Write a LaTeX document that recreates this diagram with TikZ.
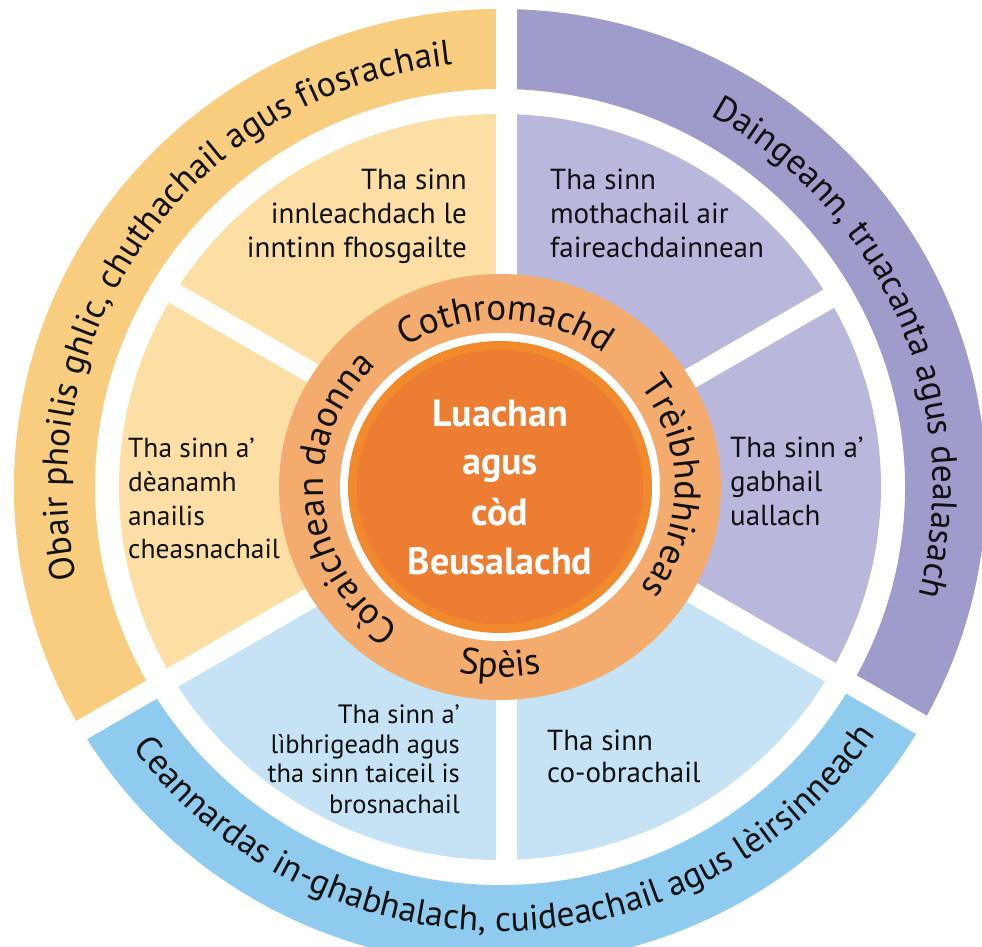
\documentclass[tikz,border=0pt]{standalone}
\usepackage{fontspec}
\setmainfont{PT Sans}
\usetikzlibrary{decorations.text}
\definecolor{oYel}{HTML}{F9CD7F}
\definecolor{mYel}{HTML}{FDDFA6}
\definecolor{oPur}{HTML}{9F9BCB}
\definecolor{mPur}{HTML}{B9B7DC}
\definecolor{oBlu}{HTML}{8FCBEE}
\definecolor{mBlu}{HTML}{C6E3F6}
\definecolor{rOra}{HTML}{F4AC6E}
\definecolor{dOra}{HTML}{EC7D32}
\definecolor{dRim}{HTML}{F08A2C}
\definecolor{ink}{HTML}{111111}
\def\ringsec#1#2#3#4#5#6#7{\fill[#1] (#2:#4 and #5) arc[start angle=#2,end angle=#3,x radius=#4,y radius=#5] -- (#3:#6 and #7) arc[start angle=#3,end angle=#2,x radius=#6,y radius=#7] -- cycle;}
\def\ofnt{\color{ink}\fontsize{35.5}{35.5}\selectfont}
\def\rfnt{\color{ink}\fontsize{37}{37}\selectfont}
\begin{document}
\begin{tikzpicture}[x=1pt,y=1pt,
  mtxt/.style={font=\fontsize{29}{34}\selectfont, inner sep=0pt, text=ink},
  ltxt/.style={font=\fontsize{27.5}{33}\selectfont, inner sep=0pt, text=ink},
  stxt/.style={font=\fontsize{26.5}{30}\selectfont, inner sep=0pt, text=ink},
  ctxt/.style={font=\bfseries\fontsize{38}{38}\selectfont, inner sep=0pt, text=white, anchor=base},
  gapline/.style={white, line width=21pt}]
\useasboundingbox[fill=white] (-500,-460) rectangle (482,487);
% outer ring
\ringsec{oYel}{90}{210}{405}{398}{486}{478}
\ringsec{oBlu}{210}{330}{405}{398}{486}{478}
\ringsec{oPur}{-30}{90}{405}{398}{486}{478}
% middle ring
\ringsec{mYel}{90}{150}{150}{145}{381}{373}
\ringsec{mYel}{150}{210}{150}{145}{381}{373}
\ringsec{mBlu}{210}{270}{150}{145}{381}{373}
\ringsec{mBlu}{270}{330}{150}{145}{381}{373}
\ringsec{mPur}{-30}{30}{150}{145}{381}{373}
\ringsec{mPur}{30}{90}{150}{145}{381}{373}
% gaps
\foreach \a in {30,90,...,330} \draw[gapline] (6,2) -- ++(\a:392);
\foreach \a in {90,210,330} \draw[gapline] (6,2) -- ++(\a:520);
% orange ring and core
\fill[rOra] (0,0) ellipse[x radius=221, y radius=213];
\fill[white] (0,0) ellipse[x radius=160, y radius=154];
\fill[dRim] (0,0) ellipse[x radius=152, y radius=146];
\fill[dOra] (0,0) ellipse[x radius=143, y radius=137];
% outer ring texts
\path[decorate, decoration={text along path, text align=center,
  text={|\ofnt|Obair phoilis ghlic, chuthachail agus fiosrachail}}]
  (220:433 and 425) arc[start angle=220, end angle=69, x radius=433, y radius=425];
\path[decorate, decoration={text along path, text align=center,
  text={|\ofnt|Daingeann, truacanta agus dealasach}}]
  (75:433 and 425) arc[start angle=75, end angle=-29, x radius=433, y radius=425];
\path[decorate, decoration={text along path, text align=center,
  text={|\ofnt|Ceannardas in-ghabhalach, cuideachail agus lèirsinneach}}]
  (205:453 and 444) arc[start angle=205, end angle=337, x radius=453, y radius=444];
% orange ring texts
\path[decorate, decoration={text along path, text align=center,
  text={|\rfnt|Cothromachd}}]
  (148:174 and 167) arc[start angle=148, end angle=28, x radius=174, y radius=167];
\path[decorate, decoration={text along path, text align=center,
  text={|\rfnt|Trèibhdhireas}}]
  (60:175 and 168) arc[start angle=60, end angle=-60, x radius=175, y radius=168];
\path[decorate, decoration={text along path, text align=center,
  text={|\rfnt|Còraichean daonna}}]
  (245:177 and 170) arc[start angle=245, end angle=125, x radius=177, y radius=170];
\path[decorate, decoration={text along path, text align=center,
  text={|\rfnt|Spèis}}]
  (220:197 and 190) arc[start angle=220, end angle=320, x radius=197, y radius=190];
% centre
\node[ctxt] (c1) at (0,60) {Luachan};
\node[ctxt] (c2) at (0,12) {agus};
\node[ctxt] (c3) at (0,-38) {còd};
\node[ctxt] (c4) at (0,-87) {Beusalachd};
% top-left sector
\node[mtxt, anchor=base east] (tl1) at (-33,297) {Tha sinn};
\node[mtxt, anchor=base east] (tl2) at (-33,263) {innleachdach le};
\node[mtxt, anchor=base east] (tl3) at (-33,229) {inntinn fhosgailte};
% top-right sector
\node[mtxt, anchor=base west] (tr1) at (50,297) {Tha sinn};
\node[mtxt, anchor=base west] (tr2) at (50,263) {mothachail air};
\node[mtxt, anchor=base west] (tr3) at (50,229) {faireachdainnean};
% right sector
\node[mtxt, anchor=base west] (r1) at (230,29) {Tha sinn a’};
\node[mtxt, anchor=base west] (r2) at (230,-5) {gabhail};
\node[mtxt, anchor=base west] (r3) at (230,-38) {uallach};
% left sector
\node[ltxt, anchor=base west] (l1) at (-372,29) {Tha sinn a’};
\node[ltxt, anchor=base west] (l2) at (-372,-5) {dèanamh};
\node[ltxt, anchor=base west] (l3) at (-372,-38) {anailis};
\node[ltxt, anchor=base west] (l4) at (-372,-71) {cheasnachail};
% bottom-right sector
\node[mtxt, anchor=base west] (br1) at (47,-263) {Tha sinn};
\node[mtxt, anchor=base west] (br2) at (47,-295) {co-obrachail};
% bottom-left sector
\node[stxt, anchor=base east] (bl1) at (-40,-236) {Tha sinn a’};
\node[stxt, anchor=base east] (bl2) at (-40,-266) {lìbhrigeadh agus};
\node[stxt, anchor=base east] (bl3) at (-40,-295) {tha sinn taiceil is};
\node[stxt, anchor=base east] (bl4) at (-40,-326) {brosnachail};
\end{tikzpicture}
\end{document}
